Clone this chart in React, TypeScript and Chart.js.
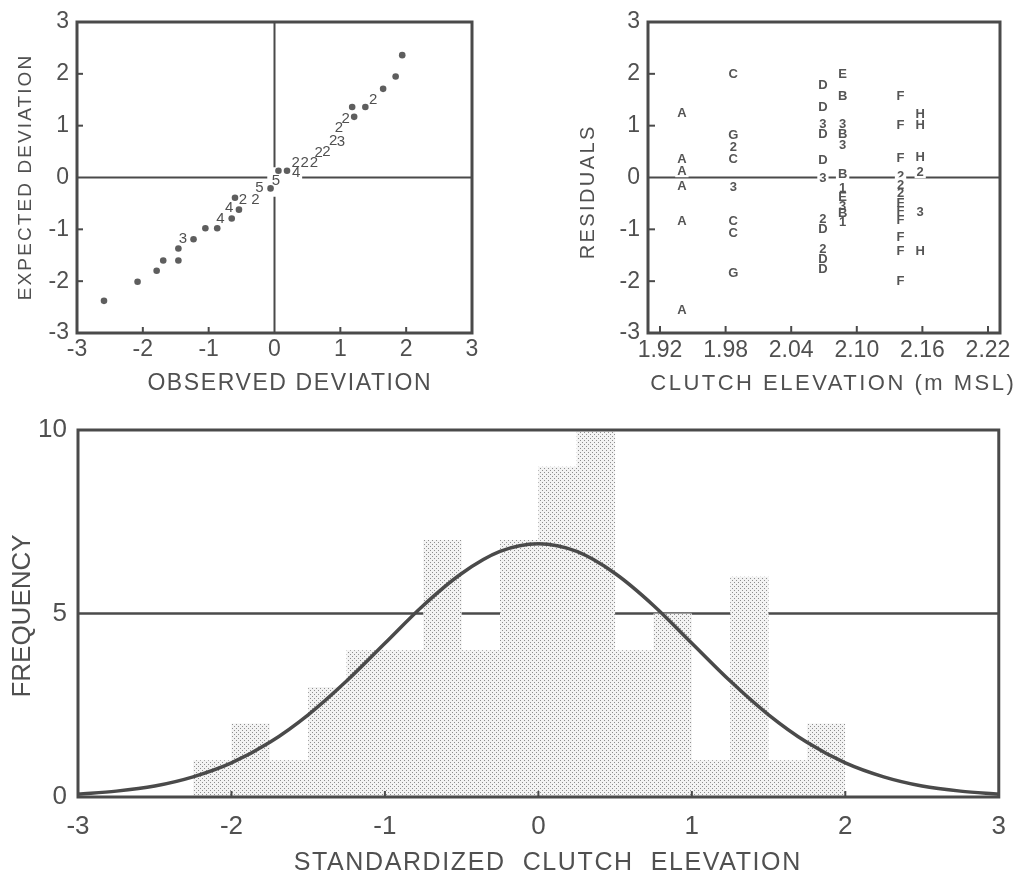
import React, { useEffect, useRef } from "react";
import { Chart, registerables } from "chart.js";

Chart.register(...registerables);

// ---------- shared look ----------
const FONT = "'Liberation Sans', Arial, sans-serif";
const INK = "#4a4a4a";
const TEXT = "#505050";

// ---------- panel 1: normal probability plot ----------
const QQ_TICKS = [-3, -2, -1, 0, 1, 2, 3];
const QQ_TICK_LABELS = ["-3", "-2", "-1", "0", "1", "2", "3"];
const QQ_DOT_X = [-2.59, -2.08, -1.79, -1.69, -1.46, -1.46, -1.23, -1.05, -0.87, -0.65, -0.54, -0.6, -0.06, 0.06, 0.19, 1.21, 1.18, 1.38, 1.65, 1.84, 1.94];
const QQ_DOT_Y = [-2.38, -2.01, -1.8, -1.6, -1.6, -1.37, -1.19, -0.98, -0.98, -0.79, -0.62, -0.39, -0.21, 0.13, 0.13, 1.17, 1.36, 1.36, 1.71, 1.95, 2.36];
const QQ_NUM_X = [-1.39, -0.82, -0.69, -0.48, -0.29, -0.23, 0.02, 0.33, 0.32, 0.46, 0.6, 0.67, 0.79, 0.89, 1.01, 0.98, 1.08, 1.5];
const QQ_NUM_Y = [-1.16, -0.77, -0.56, -0.42, -0.42, -0.19, -0.04, 0.11, 0.3, 0.3, 0.3, 0.49, 0.51, 0.73, 0.71, 0.98, 1.16, 1.51];
const QQ_NUM_LABEL = ["3", "4", "4", "2", "2", "5", "5", "4", "2", "2", "2", "2", "2", "2", "3", "2", "2", "2"];
// zero reference lines (drawn with gaps around the symbols)
const QQ_VLINE_Y_SEGMENTS = [[3, 0.2], [-0.37, -3]];
const QQ_HLINE_X_SEGMENTS = [[-3, -0.11], [0.42, 3]];

// ---------- panel 2: residuals vs clutch elevation ----------
const RES_X_TICKS = [1.92, 1.98, 2.04, 2.1, 2.16, 2.22];
const RES_X_TICK_LABELS = ["1.92", "1.98", "2.04", "2.10", "2.16", "2.22"];
const RES_Y_TICKS = [-3, -2, -1, 0, 1, 2, 3];
const RES_Y_TICK_LABELS = ["-3", "-2", "-1", "0", "1", "2", "3"];
const RES_X = [
  1.94, 1.94, 1.94, 1.94, 1.94, 1.94,
  1.987, 1.987, 1.987, 1.987, 1.987, 1.987, 1.987, 1.987,
  2.069, 2.069, 2.069, 2.069, 2.069, 2.069, 2.069, 2.069, 2.069, 2.069, 2.069,
  2.087, 2.087, 2.087, 2.087, 2.087, 2.087, 2.087, 2.087, 2.087, 2.087, 2.087,
  2.14, 2.14, 2.14, 2.14, 2.14, 2.14, 2.14, 2.14, 2.14, 2.14, 2.14, 2.14,
  2.158, 2.158, 2.158, 2.158, 2.158, 2.158,
];
const RES_Y = [
  1.25, 0.37, 0.14, -0.16, -0.83, -2.55,
  2.01, 0.84, 0.59, 0.37, -0.18, -0.82, -1.06, -1.83,
  1.8, 1.38, 1.05, 0.85, 0.34, 0.0, -0.78, -0.98, -1.36, -1.56, -1.76,
  2.01, 1.59, 1.05, 0.85, 0.63, 0.08, -0.2, -0.37, -0.53, -0.68, -0.85,
  1.59, 1.03, 0.38, 0.04, -0.13, -0.29, -0.48, -0.64, -0.81, -1.14, -1.4, -1.98,
  1.24, 1.03, 0.4, 0.12, -0.66, -1.4,
];
const RES_LABEL = [
  "A", "A", "A", "A", "A", "A",
  "C", "G", "2", "C", "3", "C", "C", "G",
  "D", "D", "3", "D", "D", "3", "2", "D", "2", "D", "D",
  "E", "B", "3", "B", "3", "B", "1", "E", "3", "B", "1",
  "F", "F", "F", "2", "2", "2", "F", "F", "F", "F", "F", "F",
  "H", "H", "H", "2", "3", "H",
];

// ---------- panel 3: histogram of standardized clutch elevation ----------
const HIST_EDGES = [-2.25, -2.0, -1.75, -1.5, -1.25, -1.0, -0.75, -0.5, -0.25, 0, 0.25, 0.5, 0.75, 1.0, 1.25, 1.5, 1.75, 2.0];
const HIST_COUNTS = [1, 2, 1, 3, 4, 4, 7, 4, 7, 9, 10, 4, 5, 1, 6, 1, 2];
const CURVE_X = [-3, -2.75, -2.5, -2.25, -2, -1.75, -1.5, -1.25, -1, -0.75, -0.5, -0.25, 0, 0.25, 0.5, 0.75, 1, 1.25, 1.5, 1.75, 2, 2.25, 2.5, 2.75, 3];
const CURVE_Y = [0.08, 0.16, 0.3, 0.55, 0.93, 1.49, 2.24, 3.16, 4.19, 5.22, 6.09, 6.69, 6.9, 6.69, 6.09, 5.22, 4.19, 3.16, 2.24, 1.49, 0.93, 0.55, 0.3, 0.16, 0.08];
const HIST_X_TICKS = [-3, -2, -1, 0, 1, 2, 3];
const HIST_X_TICK_LABELS = ["-3", "-2", "-1", "0", "1", "2", "3"];
const HIST_Y_TICKS = [0, 5, 10];
const HIST_Y_TICK_LABELS = ["0", "5", "10"];
const HIST_REF_LEVEL = 5;

// ---------- plugins ----------
const framePlugin = {
  id: "frame",
  afterDraw(chart: any, _args: any, opts: any) {
    const { ctx, chartArea: a, scales } = chart;
    ctx.save();
    ctx.strokeStyle = opts.color || INK;
    ctx.lineWidth = opts.width || 3;
    ctx.strokeRect(a.left, a.top, a.right - a.left, a.bottom - a.top);
    ctx.lineWidth = 2;
    const len = opts.len || 6;
    (opts.xTicks || []).forEach((v: number) => {
      const x = scales.x.getPixelForValue(v);
      ctx.beginPath();
      ctx.moveTo(x, a.bottom);
      ctx.lineTo(x, a.bottom - len);
      ctx.stroke();
    });
    (opts.yTicks || []).forEach((v: number) => {
      const y = scales.y.getPixelForValue(v);
      ctx.beginPath();
      ctx.moveTo(a.left, y);
      ctx.lineTo(a.left + len, y);
      ctx.stroke();
    });
    ctx.restore();
  },
};

// axis titles drawn with letter spacing, like the hand-lettered originals
const titlesPlugin = {
  id: "axisTitles",
  afterDraw(chart: any, _args: any, opts: any) {
    const ctx = chart.ctx;
    (opts.items || []).forEach((t: any) => {
      ctx.save();
      ctx.font = `${t.size}px ${FONT}`;
      ctx.fillStyle = TEXT;
      (ctx as any).letterSpacing = `${t.spacing || 0}px`;
      ctx.textAlign = "center";
      ctx.textBaseline = "middle";
      ctx.translate(t.x, t.y);
      if (t.vertical) ctx.rotate(-Math.PI / 2);
      ctx.fillText(t.text, (t.spacing || 0) / 2, 0);
      ctx.restore();
    });
  },
};

const symbolPlugin = {
  id: "symbols",
  afterDatasetsDraw(chart: any) {
    const ctx = chart.ctx;
    chart.data.datasets.forEach((ds: any, i: number) => {
      if (!ds.symbols) return;
      const meta = chart.getDatasetMeta(i);
      ctx.save();
      ctx.font = ds.symbolFont;
      ctx.textAlign = "center";
      ctx.textBaseline = "middle";
      meta.data.forEach((el: any, j: number) => {
        const t = ds.symbols[j];
        if (ds.knockout && Math.abs(ds.data[j].y) < 0.15) {
          const w = ctx.measureText(t).width + 4;
          ctx.fillStyle = "#ffffff";
          ctx.fillRect(el.x - w / 2, el.y - 7, w, 14);
        }
        ctx.fillStyle = ds.symbolColor;
        ctx.fillText(t, el.x, el.y + 1);
      });
      ctx.restore();
    });
  },
};

function baseOptions(extra: any) {
  return {
    animation: false,
    responsive: false,
    events: [],
    ...extra,
  };
}

function lineSeg(points: { x: number; y: number }[], width: number) {
  return {
    type: "line",
    data: points,
    borderColor: INK,
    borderWidth: width,
    pointRadius: 0,
    fill: false,
    tension: 0,
  };
}

function tickFont(size: number) {
  return { family: FONT, size };
}

// ---------- components ----------
function QQPanel() {
  const ref = useRef<HTMLCanvasElement>(null);
  useEffect(() => {
    const datasets: any[] = [];
    QQ_VLINE_Y_SEGMENTS.forEach((s) => datasets.push(lineSeg([{ x: 0, y: s[0] }, { x: 0, y: s[1] }], 2)));
    QQ_HLINE_X_SEGMENTS.forEach((s) => datasets.push(lineSeg([{ x: s[0], y: 0 }, { x: s[1], y: 0 }], 2)));
    datasets.push({
      type: "scatter",
      data: QQ_DOT_X.map((x, i) => ({ x, y: QQ_DOT_Y[i] })),
      pointRadius: 3.3,
      pointBackgroundColor: "#5e5e5e",
      pointBorderWidth: 0,
    });
    datasets.push({
      type: "scatter",
      data: QQ_NUM_X.map((x, i) => ({ x, y: QQ_NUM_Y[i] })),
      pointRadius: 0,
      symbols: QQ_NUM_LABEL,
      symbolFont: `15px ${FONT}`,
      symbolColor: "#505050",
    });
    const chart = new Chart(ref.current!, {
      type: "scatter",
      data: { datasets },
      plugins: [framePlugin, symbolPlugin, titlesPlugin],
      options: baseOptions({
        layout: { padding: { top: 22, right: 28, left: 0, bottom: 0 } },
        plugins: {
          legend: { display: false },
          tooltip: { enabled: false },
          frame: { xTicks: [-2, -1, 1, 2], yTicks: [-2, -1, 1, 2], len: 6, width: 3 },
          axisTitles: {
            items: [
              { text: "OBSERVED DEVIATION", x: 289, y: 384, size: 23, spacing: 1.6 },
              { text: "EXPECTED DEVIATION", x: 26, y: 178, size: 19, spacing: 2.1, vertical: true },
            ],
          },
        },
        scales: {
          x: {
            type: "linear",
            min: -3,
            max: 3,
            grid: { display: false, drawTicks: false },
            border: { display: false },
            afterBuildTicks: (s: any) => { s.ticks = QQ_TICKS.map((v) => ({ value: v })); },
            afterFit: (s: any) => { s.height = 67; },
            ticks: { autoSkip: false, maxRotation: 0, padding: 3, color: TEXT, font: tickFont(23), callback: (_v: any, i: number) => QQ_TICK_LABELS[i] },
          },
          y: {
            type: "linear",
            min: -3,
            max: 3,
            grid: { display: false, drawTicks: false },
            border: { display: false },
            afterBuildTicks: (s: any) => { s.ticks = QQ_TICKS.map((v) => ({ value: v })); },
            afterFit: (s: any) => { s.width = 77; },
            ticks: { autoSkip: false, padding: 8, color: TEXT, font: tickFont(23), callback: (_v: any, i: number) => QQ_TICK_LABELS[i] },
          },
        },
      }),
    } as any);
    return () => chart.destroy();
  }, []);
  return <canvas ref={ref} width={500} height={400} style={{ position: "absolute", left: 0, top: 0 }} />;
}

function ResidualPanel() {
  const ref = useRef<HTMLCanvasElement>(null);
  useEffect(() => {
    const datasets: any[] = [
      lineSeg([{ x: 1.909, y: 0 }, { x: 2.231, y: 0 }], 2),
      {
        type: "scatter",
        data: RES_X.map((x, i) => ({ x, y: RES_Y[i] })),
        pointRadius: 0,
        symbols: RES_LABEL,
        symbolFont: `bold 13px ${FONT}`,
        symbolColor: "#555555",
        knockout: true,
      },
    ];
    const chart = new Chart(ref.current!, {
      type: "scatter",
      data: { datasets },
      plugins: [framePlugin, symbolPlugin, titlesPlugin],
      options: baseOptions({
        layout: { padding: { top: 22, right: 20, left: 0, bottom: 0 } },
        plugins: {
          legend: { display: false },
          tooltip: { enabled: false },
          frame: { xTicks: [1.92, 1.98, 2.04, 2.1, 2.16, 2.22], yTicks: [-2, -1, 1, 2], len: 7, width: 3 },
          axisTitles: {
            items: [
              { text: "CLUTCH ELEVATION (m MSL)", x: 312, y: 384, size: 22, spacing: 2.5 },
              { text: "RESIDUALS", x: 68, y: 193, size: 20, spacing: 2.4, vertical: true },
            ],
          },
        },
        scales: {
          x: {
            type: "linear",
            min: 1.909,
            max: 2.231,
            grid: { display: false, drawTicks: false },
            border: { display: false },
            afterBuildTicks: (s: any) => { s.ticks = RES_X_TICKS.map((v) => ({ value: v })); },
            afterFit: (s: any) => { s.height = 67; },
            ticks: { autoSkip: false, maxRotation: 0, padding: 4, color: TEXT, font: tickFont(23), callback: (_v: any, i: number) => RES_X_TICK_LABELS[i] },
          },
          y: {
            type: "linear",
            min: -3,
            max: 3,
            grid: { display: false, drawTicks: false },
            border: { display: false },
            afterBuildTicks: (s: any) => { s.ticks = RES_Y_TICKS.map((v) => ({ value: v })); },
            afterFit: (s: any) => { s.width = 128; },
            ticks: { autoSkip: false, padding: 8, color: TEXT, font: tickFont(23), callback: (_v: any, i: number) => RES_Y_TICK_LABELS[i] },
          },
        },
      }),
    } as any);
    return () => chart.destroy();
  }, []);
  return <canvas ref={ref} width={500} height={400} style={{ position: "absolute", left: 520, top: 0 }} />;
}

function HistogramPanel() {
  const ref = useRef<HTMLCanvasElement>(null);
  useEffect(() => {
    const tile = document.createElement("canvas");
    tile.width = 4;
    tile.height = 4;
    const tc = tile.getContext("2d")!;
    tc.fillStyle = "#f3f3f3";
    tc.fillRect(0, 0, 4, 4);
    tc.fillStyle = "#8e8e8e";
    tc.fillRect(0, 0, 1, 1);
    tc.fillRect(2, 2, 1, 1);
    const pattern = ref.current!.getContext("2d")!.createPattern(tile, "repeat");

    const histData = HIST_EDGES.map((e, i) => ({ x: e, y: i < HIST_COUNTS.length ? HIST_COUNTS[i] : 0 }));
    const datasets: any[] = [
      {
        type: "line",
        data: CURVE_X.map((x, i) => ({ x, y: CURVE_Y[i] })),
        borderColor: INK,
        borderWidth: 3.5,
        pointRadius: 0,
        cubicInterpolationMode: "monotone",
        fill: false,
        order: 0,
      },
      {
        type: "line",
        data: histData,
        stepped: "before",
        borderWidth: 0,
        borderColor: "rgba(0,0,0,0)",
        backgroundColor: pattern,
        pointRadius: 0,
        fill: "origin",
        order: 1,
      },
      {
        ...lineSeg([{ x: -3, y: HIST_REF_LEVEL }, { x: 3, y: HIST_REF_LEVEL }], 2.5),
        order: 2,
      },
    ];
    const chart = new Chart(ref.current!, {
      type: "line",
      data: { datasets },
      plugins: [framePlugin, titlesPlugin],
      options: baseOptions({
        layout: { padding: { top: 30, right: 20, left: 0, bottom: 0 } },
        plugins: {
          legend: { display: false },
          tooltip: { enabled: false },
          frame: { xTicks: [-2, -1, 0, 1, 2], yTicks: [], len: 6, width: 3 },
          axisTitles: {
            items: [
              { text: "STANDARDIZED  CLUTCH  ELEVATION", x: 547, y: 463, size: 25, spacing: 1.6 },
              { text: "FREQUENCY", x: 23, y: 216, size: 26, spacing: 0, vertical: true },
            ],
          },
        },
        scales: {
          x: {
            type: "linear",
            min: -3,
            max: 3,
            grid: { display: false, drawTicks: false },
            border: { display: false },
            afterBuildTicks: (s: any) => { s.ticks = HIST_X_TICKS.map((v) => ({ value: v })); },
            afterFit: (s: any) => { s.height = 78; },
            ticks: { autoSkip: false, maxRotation: 0, padding: 14, color: TEXT, font: tickFont(26), callback: (_v: any, i: number) => HIST_X_TICK_LABELS[i] },
          },
          y: {
            type: "linear",
            min: 0,
            max: 10,
            grid: { display: false, drawTicks: false },
            border: { display: false },
            afterBuildTicks: (s: any) => { s.ticks = HIST_Y_TICKS.map((v) => ({ value: v })); },
            afterFit: (s: any) => { s.width = 78; },
            ticks: { autoSkip: false, padding: 11, color: TEXT, font: tickFont(26), callback: (_v: any, i: number) => HIST_Y_TICK_LABELS[i] },
          },
        },
      }),
    } as any);
    return () => chart.destroy();
  }, []);
  return <canvas ref={ref} width={1020} height={475} style={{ position: "absolute", left: 0, top: 400 }} />;
}

export default function App() {
  return (
    <div style={{ position: "fixed", left: 0, top: 0, width: 1020, height: 875, background: "#ffffff", overflow: "hidden" }}>
      <QQPanel />
      <ResidualPanel />
      <HistogramPanel />
    </div>
  );
}
